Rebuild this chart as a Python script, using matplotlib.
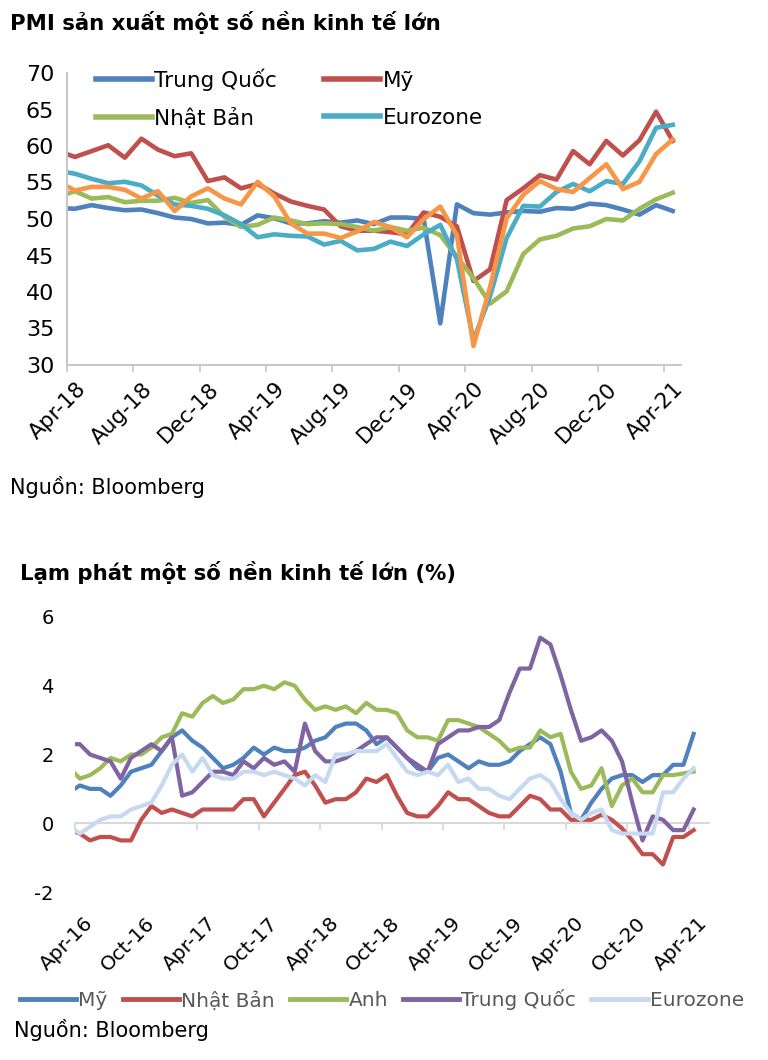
import numpy as np
import matplotlib
matplotlib.use('Agg')
import matplotlib.pyplot as plt
import matplotlib.transforms as mtransforms

plt.rcParams['font.family'] = ['DejaVu Sans']
plt.rcParams['axes.unicode_minus'] = False

# ---- PMI, monthly Mar-18 .. Apr-21 (Mar-18 only shows as the clipped stub at the left edge)
pmi_ticklabels = ['Apr-18', 'Aug-18', 'Dec-18', 'Apr-19', 'Aug-19',
                  'Dec-19', 'Apr-20', 'Aug-20', 'Dec-20', 'Apr-21']
pmi_china = [51.5, 51.4, 51.9, 51.5, 51.2, 51.3, 50.8, 50.2, 50.0, 49.4, 49.5, 49.2,
             50.5, 50.1, 49.4, 49.4, 49.7, 49.5, 49.8, 49.3, 50.2, 50.2, 50.0, 35.7,
             52.0, 50.8, 50.6, 50.9, 51.1, 51.0, 51.5, 51.4, 52.1, 51.9, 51.3, 50.6,
             51.9, 51.1]
pmi_us = [59.3, 58.5, 59.3, 60.1, 58.4, 61.0, 59.5, 58.6, 59.0, 55.2, 55.7, 54.2,
          54.8, 53.5, 52.4, 51.8, 51.3, 49.0, 48.4, 48.4, 48.2, 47.9, 50.9, 50.3,
          49.0, 41.5, 43.1, 52.6, 54.2, 56.0, 55.4, 59.3, 57.5, 60.7, 58.7, 60.8,
          64.7, 60.7]
pmi_japan = [53.1, 53.8, 52.8, 53.0, 52.3, 52.5, 52.5, 52.9, 52.2, 52.6, 50.3, 48.9,
             49.2, 50.2, 49.8, 49.3, 49.4, 49.3, 48.9, 48.4, 48.9, 48.4, 48.8, 47.8,
             44.8, 41.9, 38.4, 40.1, 45.2, 47.2, 47.7, 48.7, 49.0, 50.0, 49.8, 51.4,
             52.7, 53.6]
pmi_euro = [56.6, 56.2, 55.5, 54.9, 55.1, 54.6, 53.2, 52.0, 51.8, 51.4, 50.5, 49.3,
            47.5, 47.9, 47.7, 47.6, 46.5, 47.0, 45.7, 45.9, 46.9, 46.3, 47.9, 49.2,
            44.5, 33.4, 39.4, 47.4, 51.8, 51.7, 53.7, 54.8, 53.8, 55.2, 54.8, 57.9,
            62.5, 62.9]
pmi_uk = [55.1, 53.9, 54.4, 54.4, 54.0, 52.8, 53.8, 51.1, 53.1, 54.2, 52.8, 52.0,
          55.1, 53.1, 49.4, 48.0, 48.0, 47.4, 48.3, 49.6, 48.9, 47.5, 50.0, 51.7,
          47.8, 32.6, 40.7, 50.1, 53.3, 55.2, 54.1, 53.7, 55.6, 57.5, 54.1, 55.1,
          58.9, 60.9]

# ---- inflation (%), monthly Mar-16 .. Apr-21
cpi_ticklabels = ['Apr-16', 'Oct-16', 'Apr-17', 'Oct-17', 'Apr-18', 'Oct-18',
                  'Apr-19', 'Oct-19', 'Apr-20', 'Oct-20', 'Apr-21']
cpi_us = [0.9,
          1.1, 1.0, 1.0, 0.8, 1.1, 1.5, 1.6, 1.7, 2.1,
          2.5, 2.7, 2.4, 2.2, 1.9, 1.6, 1.7, 1.9, 2.2, 2.0, 2.2, 2.1,
          2.1, 2.2, 2.4, 2.5, 2.8, 2.9, 2.9, 2.7, 2.3, 2.5, 2.2, 1.9,
          1.6, 1.5, 1.9, 2.0, 1.8, 1.6, 1.8, 1.7, 1.7, 1.8, 2.1, 2.3,
          2.5, 2.3, 1.5, 0.3, 0.1, 0.6, 1.0, 1.3, 1.4, 1.4, 1.2, 1.4,
          1.4, 1.7, 1.7, 2.6]
cpi_japan = [-0.2,
             -0.3, -0.5, -0.4, -0.4, -0.5, -0.5, 0.1, 0.5, 0.3,
             0.4, 0.3, 0.2, 0.4, 0.4, 0.4, 0.4, 0.7, 0.7, 0.2, 0.6, 1.0,
             1.4, 1.5, 1.1, 0.6, 0.7, 0.7, 0.9, 1.3, 1.2, 1.4, 0.8, 0.3,
             0.2, 0.2, 0.5, 0.9, 0.7, 0.7, 0.5, 0.3, 0.2, 0.2, 0.5, 0.8,
             0.7, 0.4, 0.4, 0.1, 0.1, 0.1, 0.25, 0.1, -0.15, -0.5, -0.9, -0.9,
             -1.2, -0.4, -0.4, -0.2]
cpi_uk = [1.6,
          1.3, 1.4, 1.6, 1.9, 1.8, 2.0, 2.0, 2.2, 2.5,
          2.6, 3.2, 3.1, 3.5, 3.7, 3.5, 3.6, 3.9, 3.9, 4.0, 3.9, 4.1,
          4.0, 3.6, 3.3, 3.4, 3.3, 3.4, 3.2, 3.5, 3.3, 3.3, 3.2, 2.7,
          2.5, 2.5, 2.4, 3.0, 3.0, 2.9, 2.8, 2.6, 2.4, 2.1, 2.2, 2.2,
          2.7, 2.5, 2.6, 1.5, 1.0, 1.1, 1.6, 0.5, 1.1, 1.3, 0.9, 0.9,
          1.4, 1.4, 1.45, 1.5]
cpi_china = [2.3,
             2.3, 2.0, 1.9, 1.8, 1.3, 1.9, 2.1, 2.3, 2.1,
             2.5, 0.8, 0.9, 1.2, 1.5, 1.5, 1.4, 1.8, 1.6, 1.9, 1.7, 1.8,
             1.5, 2.9, 2.1, 1.8, 1.8, 1.9, 2.1, 2.3, 2.5, 2.5, 2.2, 1.9,
             1.7, 1.5, 2.3, 2.5, 2.7, 2.7, 2.8, 2.8, 3.0, 3.8, 4.5, 4.5,
             5.4, 5.2, 4.3, 3.3, 2.4, 2.5, 2.7, 2.4, 1.8, 0.6, -0.5, 0.2,
             0.1, -0.2, -0.2, 0.4]
cpi_euro = [-0.1,
            -0.3, -0.1, 0.1, 0.2, 0.2, 0.4, 0.5, 0.6, 1.1,
            1.7, 2.0, 1.5, 1.9, 1.4, 1.3, 1.3, 1.5, 1.5, 1.4, 1.5, 1.4,
            1.3, 1.1, 1.4, 1.2, 2.0, 2.0, 2.1, 2.1, 2.1, 2.3, 1.9, 1.5,
            1.4, 1.5, 1.4, 1.7, 1.2, 1.3, 1.0, 1.0, 0.8, 0.7, 1.0, 1.3,
            1.4, 1.2, 0.7, 0.3, 0.1, 0.3, 0.4, -0.2, -0.3, -0.3, -0.3, -0.3,
            0.9, 0.9, 1.3, 1.6]

# x in months from the first tick, points sit mid-month
pmi_x = np.arange(len(pmi_china)) - 0.5
cpi_x = np.arange(len(cpi_us)) - 0.5

fig = plt.figure(figsize=(7.68, 10.6), dpi=100)

# ================= PMI =================
fig.text(10/768, 1-22/1060, 'PMI sản xuất một số nền kinh tế lớn',
         fontsize=15.3, fontweight='bold', va='center', ha='left')

ax1 = fig.add_axes([66.7/768, 1-365/1060, 614.3/768, 292/1060])
lw = 3.3
l_cn, = ax1.plot(pmi_x, pmi_china, color='#4F81BD', lw=lw, solid_joinstyle='round')
l_us, = ax1.plot(pmi_x, pmi_us, color='#C0504D', lw=lw, solid_joinstyle='round')
l_jp, = ax1.plot(pmi_x, pmi_japan, color='#9BBB59', lw=lw, solid_joinstyle='round')
l_eu, = ax1.plot(pmi_x, pmi_euro, color='#4BACC6', lw=lw, solid_joinstyle='round')
ax1.plot(pmi_x, pmi_uk, color='#F79646', lw=lw, solid_joinstyle='round')

ax1.set_xlim(0, 37)
ax1.set_ylim(30, 70)
ax1.set_yticks(np.arange(30, 71, 5))
ax1.set_xticks(np.arange(0, 37, 4))
ax1.set_xticklabels(pmi_ticklabels, rotation=45, ha='right', rotation_mode='anchor')
for s in ['top', 'right']:
    ax1.spines[s].set_visible(False)
for s in ['left', 'bottom']:
    ax1.spines[s].set_color('#C8C8C8')
    ax1.spines[s].set_linewidth(1.5)
ax1.tick_params(axis='y', length=0, labelsize=16, pad=9)
ax1.tick_params(axis='x', length=5, width=1.3, color='#C8C8C8', labelsize=15.5, pad=5)

# legend fills column-wise: order so rows read Trung Quoc / My, Nhat Ban / Eurozone
leg1 = ax1.legend([l_cn, l_jp, l_us, l_eu], ['Trung Quốc', 'Nhật Bản', 'Mỹ', 'Eurozone'],
                  loc='upper left', bbox_to_anchor=(0.048, 1.016), ncol=2, frameon=False,
                  fontsize=15.5, handlelength=2.6, handletextpad=0.1, columnspacing=2.2,
                  labelspacing=0.78, borderpad=0, borderaxespad=0)
for h in leg1.get_lines():
    h.set_linewidth(4)

fig.text(10/768, 1-487/1060, 'Nguồn: Bloomberg', fontsize=15, va='center', ha='left')

# ================= inflation =================
fig.text(20/768, 1-572/1060, 'Lạm phát một số nền kinh tế lớn (%)',
         fontsize=15.3, fontweight='bold', va='center', ha='left')

ax2 = fig.add_axes([74.7/768, 1-892/1060, 634.3/768, 275/1060])
lw2 = 3.0
ax2.plot(cpi_x, cpi_us, color='#4F81BD', lw=lw2, label='Mỹ', solid_joinstyle='round')
ax2.plot(cpi_x, cpi_japan, color='#C0504D', lw=lw2, label='Nhật Bản', solid_joinstyle='round')
ax2.plot(cpi_x, cpi_uk, color='#9BBB59', lw=lw2, label='Anh', solid_joinstyle='round')
ax2.plot(cpi_x, cpi_china, color='#8064A2', lw=lw2, label='Trung Quốc', solid_joinstyle='round')
ax2.plot(cpi_x, cpi_euro, color='#C6D9F0', lw=lw2, label='Eurozone', solid_joinstyle='round')

for s in ['top', 'right', 'left']:
    ax2.spines[s].set_visible(False)
# zero line carries the ticks; labels are pushed down below -2
ax2.spines['bottom'].set_position(('data', 0))
ax2.spines['bottom'].set_color('#D9D9D9')
ax2.spines['bottom'].set_linewidth(1.5)
ax2.spines['bottom'].set_zorder(0.5)

ax2.set_xlim(0, 62)
ax2.set_ylim(-2, 6)
ax2.set_yticks([-2, 0, 2, 4, 6])
ax2.set_xticks(np.arange(0, 61, 6))
ax2.set_xticklabels(cpi_ticklabels, rotation=45, ha='right', rotation_mode='anchor')
ax2.tick_params(axis='y', length=0, labelsize=14, pad=15)
ax2.tick_params(axis='x', length=5, width=1.3, color='#D9D9D9', labelsize=14.5, pad=60)

leg2 = fig.legend(*ax2.get_legend_handles_labels(), loc='center left',
                  bbox_to_anchor=(20/768, 1-1000/1060), ncol=5, frameon=False,
                  fontsize=14.5, handlelength=2.8, handletextpad=0.1, columnspacing=0.75,
                  borderpad=0, borderaxespad=0)
for t in leg2.get_texts():
    t.set_color('#595959')
for h in leg2.get_lines():
    h.set_linewidth(3.5)

fig.text(14/768, 1-1030/1060, 'Nguồn: Bloomberg', fontsize=15, va='center', ha='left')

# nudge the rotated date labels a little to the right, as in the original
shift = mtransforms.ScaledTranslation(9/100, 0, fig.dpi_scale_trans)
for ax in (ax1, ax2):
    for lab in ax.get_xticklabels():
        lab.set_transform(lab.get_transform() + shift)

fig.savefig('out.png', dpi=100, facecolor='white')
